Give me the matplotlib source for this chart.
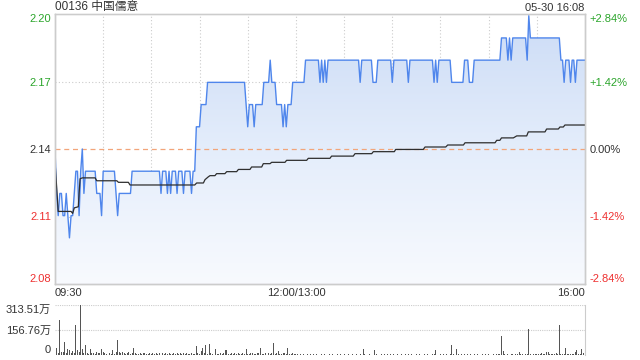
import matplotlib
matplotlib.use('Agg')
import matplotlib.pyplot as plt
import numpy as np
from matplotlib.colors import LinearSegmentedColormap

plt.rcParams['font.family'] = ['Liberation Sans', 'Noto Sans CJK SC', 'DejaVu Sans']

titulo = '00136 中国儒意'
fecha = '05-30 16:08'
cierre = 2.14  # cierre anterior

# precio por minuto (09:30-12:00, 13:00-16:00)
precios = [
    2.14, 2.12, 2.11, 2.12, 2.12, 2.11, 2.11, 2.12, 2.11, 2.10,
    2.11, 2.11, 2.12, 2.13, 2.13, 2.11, 2.13, 2.14, 2.12, 2.13,
    2.13, 2.13, 2.13, 2.13, 2.13, 2.13, 2.12, 2.12, 2.12, 2.11,
    2.13, 2.13, 2.13, 2.13, 2.13, 2.13, 2.13, 2.13, 2.12, 2.11,
    2.12, 2.12, 2.12, 2.12, 2.12, 2.12, 2.12, 2.12, 2.13, 2.13,
    2.13, 2.13, 2.13, 2.13, 2.13, 2.13, 2.13, 2.13, 2.13, 2.13,
    2.13, 2.13, 2.13, 2.13, 2.13, 2.13, 2.12, 2.13, 2.13, 2.13,
    2.12, 2.13, 2.12, 2.13, 2.13, 2.13, 2.12, 2.13, 2.13, 2.13,
    2.12, 2.13, 2.13, 2.13, 2.13, 2.12, 2.13, 2.13, 2.15, 2.15,
    2.15, 2.16, 2.16, 2.16, 2.16, 2.17, 2.17, 2.17, 2.17, 2.17,
    2.17, 2.17, 2.17, 2.17, 2.17, 2.17, 2.17, 2.17, 2.17, 2.17,
    2.17, 2.17, 2.17, 2.17, 2.17, 2.17, 2.17, 2.17, 2.17, 2.16,
    2.15, 2.16, 2.16, 2.16, 2.15, 2.16, 2.16, 2.16, 2.16, 2.16,
    2.17, 2.17, 2.17, 2.17, 2.18, 2.17, 2.17, 2.17, 2.16, 2.16,
    2.16, 2.16, 2.15, 2.16, 2.15, 2.16, 2.16, 2.16, 2.17, 2.17,
    2.17, 2.17, 2.17, 2.17, 2.17, 2.17, 2.18, 2.18, 2.18, 2.18,
    2.18, 2.18, 2.18, 2.18, 2.18, 2.17, 2.18, 2.17, 2.18, 2.17,
    2.18, 2.18, 2.18, 2.18, 2.18, 2.18, 2.18, 2.18, 2.18, 2.18,
    2.18, 2.18, 2.18, 2.18, 2.18, 2.18, 2.18, 2.18, 2.18, 2.18,
    2.17, 2.18, 2.18, 2.18, 2.18, 2.18, 2.18, 2.18, 2.17, 2.17,
    2.17, 2.18, 2.18, 2.18, 2.18, 2.18, 2.18, 2.18, 2.18, 2.18,
    2.17, 2.18, 2.18, 2.18, 2.18, 2.18, 2.18, 2.18, 2.18, 2.18,
    2.17, 2.18, 2.18, 2.18, 2.18, 2.18, 2.18, 2.18, 2.18, 2.18,
    2.18, 2.18, 2.18, 2.18, 2.18, 2.18, 2.17, 2.18, 2.17, 2.18,
    2.18, 2.18, 2.18, 2.18, 2.18, 2.18, 2.18, 2.17, 2.17, 2.17,
    2.17, 2.17, 2.17, 2.17, 2.17, 2.18, 2.18, 2.18, 2.17, 2.17,
    2.17, 2.18, 2.18, 2.18, 2.18, 2.18, 2.18, 2.18, 2.18, 2.18,
    2.18, 2.18, 2.18, 2.18, 2.18, 2.18, 2.18, 2.18, 2.19, 2.19,
    2.19, 2.19, 2.18, 2.19, 2.18, 2.19, 2.19, 2.19, 2.19, 2.19,
    2.19, 2.19, 2.19, 2.19, 2.18, 2.20, 2.19, 2.19, 2.19, 2.19,
    2.19, 2.19, 2.19, 2.19, 2.19, 2.19, 2.19, 2.19, 2.19, 2.19,
    2.19, 2.19, 2.19, 2.19, 2.19, 2.18, 2.18, 2.17, 2.18, 2.18,
    2.18, 2.17, 2.18, 2.18, 2.17, 2.18, 2.18, 2.18, 2.18, 2.18,
    2.18,
]

# precio medio (puntos de cambio)
medio_min = [0, 2, 10, 11, 12, 14.5, 15.6, 17, 25, 26, 38.5, 39.5, 45.7, 46.7,
             87, 88.2, 92.4, 93.4, 95.5, 96.5, 99.6, 100.6, 105.8, 106.9,
             113.1, 114.2, 121.4, 122.4, 128.7, 129.7, 133.9, 134.9, 143.2,
             144.2, 156.7, 157.7, 171.2, 172.2, 185.7, 186.8, 197.2, 198.2,
             211.3, 212.1, 229.3, 230.4, 243.3, 244.5, 254.3, 255.3, 274, 275,
             277, 278, 285.4, 287.5, 293.7, 294.7, 305.1, 306.1, 313.4, 314.4,
             316.5, 317.5, 330]
medio_val = [2.1344, 2.1119, 2.1119, 2.1110, 2.1135, 2.1140, 2.1266, 2.1270,
             2.1270, 2.1257, 2.1257, 2.1250, 2.1250, 2.1238, 2.1238, 2.1247,
             2.1247, 2.1262, 2.1275, 2.1280, 2.1280, 2.1289, 2.1289, 2.1298,
             2.1298, 2.1308, 2.1308, 2.1319, 2.1319, 2.1334, 2.1334, 2.1340,
             2.1340, 2.1349, 2.1349, 2.1358, 2.1358, 2.1368, 2.1368, 2.1379,
             2.1379, 2.1388, 2.1388, 2.1398, 2.1398, 2.1409, 2.1409, 2.1418,
             2.1418, 2.1428, 2.1428, 2.1439, 2.1439, 2.1450, 2.1450, 2.1459,
             2.1459, 2.1477, 2.1477, 2.1490, 2.1490, 2.1499, 2.1499, 2.1508,
             2.1508]

# volumen por minuto (万)
volumen = [
    31, 42, 12, 219, 20, 16, 80, 12, 38, 30,
    15, 22, 10, 188, 30, 18, 313.51, 38, 12, 63,
    10, 8, 36, 10, 12, 8, 16, 10, 12, 38,
    16, 12, 8, 36, 12, 6, 30, 8, 16, 94,
    20, 12, 16, 12, 8, 10, 16, 8, 12, 46,
    10, 6, 8, 12, 6, 10, 14, 8, 6, 10,
    8, 12, 6, 10, 8, 14, 6, 10, 8, 12,
    6, 10, 8, 6, 12, 8, 10, 6, 14, 8,
    10, 6, 12, 8, 6, 10, 8, 6, 56, 12,
    8, 25, 42, 10, 63, 8, 67, 10, 6, 12,
    38, 8, 6, 10, 8, 12, 31, 31, 8, 6,
    10, 8, 12, 6, 14, 8, 6, 10, 8, 36,
    8, 6, 12, 10, 6, 8, 14, 10, 42, 8,
    6, 10, 8, 12, 6, 10, 77, 8, 12, 25,
    8, 6, 10, 12, 8, 42, 8, 6, 10, 8,
    6, 4, 3, 5, 2, 4, 3, 6, 2, 4,
    3, 5, 2, 4, 3, 2, 5, 3, 4, 2,
    3, 4, 2, 5, 3, 2, 4, 3, 6, 2,
    4, 3, 2, 5, 3, 4, 2, 3, 5, 2,
    4, 3, 38, 4, 2, 3, 5, 2, 6, 31,
    4, 3, 2, 5, 3, 4, 2, 6, 3, 4,
    2, 5, 3, 4, 2, 3, 6, 2, 4, 3,
    5, 2, 4, 3, 2, 5, 3, 4, 2, 3,
    4, 2, 5, 3, 2, 4, 6, 31, 3, 2,
    4, 3, 5, 2, 4, 3, 6, 63, 4, 3,
    38, 4, 2, 5, 3, 8, 2, 4, 3, 5,
    2, 4, 3, 5, 2, 3, 4, 2, 5, 3,
    4, 2, 3, 5, 2, 4, 6, 8, 121, 25,
    4, 3, 5, 2, 6, 4, 3, 5, 8, 17,
    4, 6, 3, 5, 8, 161, 4, 25, 6, 4,
    5, 8, 4, 12, 6, 8, 17, 21, 4, 6,
    8, 5, 12, 4, 188, 6, 8, 4, 46, 5,
    6, 4, 8, 5, 21, 29, 6, 8, 38, 12,
    100,
]

pct_ticks = [-0.0284, -0.0142, 0.0, 0.0142, 0.0284]
precio_labels = ['2.08', '2.11', '2.14', '2.17', '2.20']
pct_labels = ['-2.84%', '-1.42%', '0.00%', '+1.42%', '+2.84%']
hora_ticks = [0, 150, 330]
hora_labels = ['09:30', '12:00/13:00', '16:00']
vol_ticks = [0, 156.76, 313.51]
vol_labels = ['0', '156.76万', '313.51万']

verde = '#2ba52b'
rojo = '#ee3030'
gris = '#333333'
colores = [rojo, rojo, gris, verde, verde]

fig = plt.figure(figsize=(6.4, 3.6), dpi=100)
ax = fig.add_axes([55/640, 1-284/360, 530/640, 270/360])
axv = fig.add_axes([55/640, 1-355/360, 530/640, 50/360])

minutos = np.arange(len(precios))
ymin = cierre * (1 + pct_ticks[0])
ymax = cierre * (1 + pct_ticks[-1])

# relleno degradado bajo la linea
poly = ax.fill_between(minutos, precios, ymin, color='none', lw=0)
grad = np.linspace(0, 1, 256).reshape(-1, 1)
cmap = LinearSegmentedColormap.from_list('relleno', ['#f8fafe', '#e4edfb', '#ccdcf6'])
img = ax.imshow(grad, extent=[0, 330, ymin, ymax], origin='lower', aspect='auto',
                cmap=cmap, zorder=1)
img.set_clip_path(poly.get_paths()[0], transform=ax.transData)

# rejilla
for m in range(30, 330, 30):
    ax.axvline(m, color='#cccccc', lw=0.8, ls=(0, (1, 2)), zorder=0)
for p in [pct_ticks[1], pct_ticks[3]]:
    ax.axhline(cierre * (1 + p), color='#cccccc', lw=0.8, ls=(0, (1, 2)), zorder=0)
ax.axhline(cierre, color='#f2a57a', lw=0.9, ls=(0, (4, 3)), zorder=2)

ax.plot(minutos, precios, color='#4f86ec', lw=1.0, zorder=3)
ax.plot(medio_min, medio_val, color='#2e2e2e', lw=0.9, zorder=4)

ax.set_xlim(0, 330)
ax.set_ylim(ymin, ymax)
yt = [cierre * (1 + p) for p in pct_ticks]
ax.set_yticks(yt)
ax.set_yticklabels(precio_labels, fontsize=8)
ax.set_xticks(hora_ticks)
ax.set_xticklabels(hora_labels, fontsize=8, color=gris)
ax.tick_params(axis='both', length=0, pad=3)
for lbl, c in zip(ax.get_yticklabels(), colores):
    lbl.set_color(c)
ax.get_yticklabels()[0].set_va('bottom')
ax.get_yticklabels()[-1].set_va('top')
xl = ax.get_xticklabels()
xl[0].set_ha('left')
xl[-1].set_ha('right')

ax2 = ax.twinx()
ax2.set_ylim(ymin, ymax)
ax2.set_yticks(yt)
ax2.set_yticklabels(pct_labels, fontsize=8)
ax2.tick_params(axis='y', length=0, pad=3)
for lbl, c in zip(ax2.get_yticklabels(), colores):
    lbl.set_color(c)
ax2.get_yticklabels()[0].set_va('bottom')
ax2.get_yticklabels()[-1].set_va('top')

for a in [ax, ax2]:
    for s in a.spines.values():
        s.set_color('#cccccc')
        s.set_linewidth(1)
ax.spines['top'].set_color('#dddddd')

ax.text(573, ymin + 0.0015, 'sina.com', color='#cccccc', fontsize=8,
        ha='right', va='bottom', zorder=5)

# volumen
axv.bar(minutos, volumen, width=0.6, color='#555555', zorder=3)
axv.set_xlim(0, 330)
axv.set_ylim(0, 313.51)
axv.set_yticks(vol_ticks)
axv.set_yticklabels(vol_labels, fontsize=8, color=gris)
axv.set_xticks([])
axv.tick_params(axis='y', length=0, pad=3)
axv.get_yticklabels()[0].set_va('bottom')
axv.get_yticklabels()[-1].set_va('top')
for v in vol_ticks[1:]:
    axv.axhline(v, color='#cccccc', lw=0.8, ls=(0, (1, 1)), zorder=0)
for s in ['left', 'top', 'bottom']:
    axv.spines[s].set_visible(False)
axv.spines['right'].set_color('#cccccc')

fig.text(55/640, 1-7/360, titulo, fontsize=8.5, color=gris, ha='left', va='center')
fig.text(584/640, 1-8/360, fecha, fontsize=8, color=gris, ha='right', va='center')

plt.savefig('out.png', dpi=100)
